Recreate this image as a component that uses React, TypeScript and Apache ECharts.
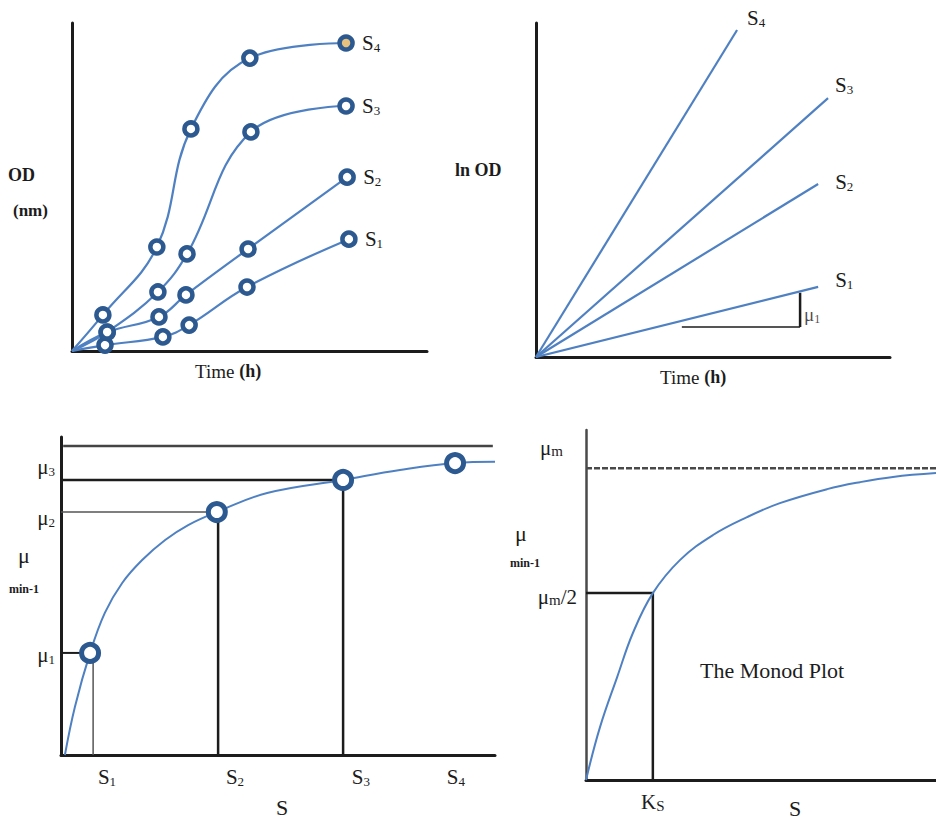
import React, { useEffect, useRef } from "react";
import * as echarts from "echarts";

const SERIF = "'Liberation Serif', 'DejaVu Serif', serif";
const LINE_BLUE = "#4f81c2";
const RING_BLUE = "#2b5990";
const INK = "#1c1c1c";

// ---- Panel A: OD vs time (growth curves) ----
const growthLabels = ["1", "2", "3", "4"];
const growthS1: number[][] = [[0, 0], [0.93, 0.18], [2.56, 0.43], [3.30, 0.79], [4.93, 1.95], [7.80, 3.41]];
const growthS2: number[][] = [[0, 0], [0.99, 0.57], [2.45, 1.04], [3.21, 1.71], [4.96, 3.11], [7.75, 5.30]];
const growthS3: number[][] = [[0, 0], [0.99, 0.58], [2.42, 1.80], [3.24, 2.96], [5.04, 6.68], [7.72, 7.47]];
const growthS4: number[][] = [[0, 0], [0.87, 1.10], [2.39, 3.17], [3.35, 6.77], [5.01, 8.93], [7.72, 9.39]];

// ---- Panel B: ln OD vs time ----
const lnS1: number[][] = [[0, 0], [7.97, 2.10]];
const lnS2: number[][] = [[0, 0], [7.97, 5.18]];
const lnS3: number[][] = [[0, 0], [8.25, 7.75]];
const lnS4: number[][] = [[0, 0], [5.68, 9.79]];
const slopeRun: number[][] = [[4.12, 0.90], [7.46, 0.90]];
const slopeRise: number[][] = [[7.46, 0.90], [7.46, 1.92]];
const slopeLabelAt: number[] = [7.46, 1.26];

// ---- Panel C: mu vs S with measured points ----
const muCurve: number[][] = [[0.09, 0], [0.32, 1.51], [0.67, 3.21], [1.01, 4.47], [1.41, 5.41], [1.87, 6.13], [2.40, 6.76], [2.93, 7.23], [3.59, 7.64], [4.75, 8.24], [6.50, 8.65], [7.81, 8.96], [9.08, 9.18], [10, 9.22]];
const muPoints: number[][] = [[0.67, 3.21], [3.59, 7.64], [6.50, 8.65], [9.08, 9.18]];
const muMaxLine: number[][] = [[0.05, 9.72], [9.95, 9.72]];
const mu3Guide: number[][] = [[0, 8.65], [6.50, 8.65], [6.50, 0]];
const mu2Horiz: number[][] = [[0, 7.64], [3.59, 7.64]];
const mu2Vert: number[][] = [[3.62, 7.64], [3.62, 0]];
const mu1Horiz: number[][] = [[0, 3.21], [0.67, 3.21]];
const mu1Vert: number[][] = [[0.74, 3.21], [0.74, 0]];
const muTickPos: number[] = [3.14, 7.45, 9.06];
const muTickNames: string[] = ["1", "2", "3"];
const sTickPos: number[] = [1.06, 4.01, 6.91, 9.10];
const sTickNames: string[] = ["1", "2", "3", "4"];

// ---- Panel D: The Monod plot ----
const monodCurve: number[][] = [[0, 0], [0.40, 1.51], [0.89, 2.94], [1.34, 4.20], [1.91, 5.34], [2.69, 6.29], [3.63, 7.00], [4.60, 7.51], [5.54, 7.91], [6.89, 8.31], [7.83, 8.51], [8.77, 8.66], [10, 8.77]];
const monodMax: number[][] = [[0, 8.91], [10, 8.91]];
const halfGuide: number[][] = [[0, 5.34], [1.91, 5.34], [1.91, 0]];
const monodYTicks: number[] = [9.49, 5.23];
const ksTick: number[] = [1.91];

const subRich = {
  g: { fontFamily: SERIF, fontSize: 21, lineHeight: 22, color: INK },
  n: { fontFamily: SERIF, fontSize: 13, lineHeight: 12, verticalAlign: "bottom", color: INK },
  m: { fontFamily: SERIF, fontSize: 15, lineHeight: 16, verticalAlign: "bottom", color: INK },
  gap: { width: 14 },
};

function nearestIdx(arr: number[], v: number) {
  let best = 0;
  for (let i = 1; i < arr.length; i++) if (Math.abs(arr[i] - v) < Math.abs(arr[best] - v)) best = i;
  return best;
}

function hiddenAxis(gridIndex: number, color: string, width: number, extra: any = {}) {
  return {
    type: "value",
    gridIndex,
    min: 0,
    max: 10,
    axisLine: { show: true, onZero: false, lineStyle: { color, width } },
    axisTick: { show: false },
    axisLabel: { show: false },
    splitLine: { show: false },
    ...extra,
  };
}

function guide(xi: number, data: number[][], color: string, width: number, type: any = "solid", z = 2) {
  return {
    type: "line",
    xAxisIndex: xi,
    yAxisIndex: xi,
    data,
    symbol: "none",
    silent: true,
    z,
    lineStyle: { color, width, type },
  };
}

function growthSeries(data: number[][], idx: number) {
  const last = data.length - 1;
  return {
    type: "line",
    xAxisIndex: 0,
    yAxisIndex: 0,
    smooth: 0.4,
    data: data.map((p, i) =>
      i === 0
        ? { value: p, symbol: "none" }
        : idx === 3 && i === last
        ? { value: p, itemStyle: { color: "#e6c27e" } }
        : { value: p }
    ),
    symbol: "circle",
    symbolSize: 13,
    itemStyle: { color: "#ffffff", borderColor: RING_BLUE, borderWidth: 4.5, opacity: 1 },
    lineStyle: { color: LINE_BLUE, width: 2.2 },
    z: 3,
    endLabel: {
      show: true,
      distance: 16,
      formatter: "{g|S}{n|" + growthLabels[idx] + "}",
      rich: subRich,
    },
  };
}

function lnSeries(data: number[][], idx: number, offset: number[]) {
  return {
    type: "line",
    xAxisIndex: 1,
    yAxisIndex: 1,
    data,
    symbol: "none",
    lineStyle: { color: LINE_BLUE, width: 2.2 },
    z: 3,
    endLabel: {
      show: true,
      distance: 0,
      offset,
      formatter: "{g|S}{n|" + growthLabels[idx] + "}",
      rich: subRich,
    },
  };
}

function txt(x: number, y: number, text: string, size: number, weight: string = "normal", align: string = "left", rich?: any) {
  return {
    type: "text",
    x,
    y,
    silent: true,
    style: {
      text,
      fontFamily: SERIF,
      fontSize: size,
      fontWeight: weight,
      fill: INK,
      align,
      verticalAlign: "middle",
      rich,
    },
  };
}

const timeRich = {
  t: { fontFamily: SERIF, fontSize: 19, color: INK },
  b: { fontFamily: SERIF, fontSize: 18, fontWeight: "bold", color: INK },
};

export default function App() {
  const ref = useRef<HTMLDivElement>(null);
  useEffect(() => {
    if (!ref.current) return;
    const chart = echarts.init(ref.current, undefined, { renderer: "svg" });
    const option: any = {
      animation: false,
      backgroundColor: "#ffffff",
      grid: [
        { left: 72, top: 23, width: 355, height: 328, outerBoundsMode: "none" },
        { left: 536, top: 23, width: 354, height: 334, outerBoundsMode: "none" },
        { left: 61, top: 437, width: 434, height: 318, outerBoundsMode: "none" },
        { left: 586, top: 430, width: 350, height: 350, outerBoundsMode: "none" },
      ],
      xAxis: [
        hiddenAxis(0, INK, 3),
        hiddenAxis(1, INK, 3),
        hiddenAxis(2, INK, 3, {
          axisLabel: {
            show: true,
            customValues: sTickPos,
            margin: 11,
            formatter: (v: number) => "{g|S}{n|" + sTickNames[nearestIdx(sTickPos, v)] + "}",
            rich: subRich,
          },
        }),
        hiddenAxis(3, INK, 3, {
          axisLabel: {
            show: true,
            customValues: ksTick,
            margin: 11,
            formatter: () => "{g|K}{m|S}",
            rich: subRich,
          },
        }),
      ],
      yAxis: [
        hiddenAxis(0, INK, 3),
        hiddenAxis(1, INK, 3),
        hiddenAxis(2, INK, 3, {
          axisLabel: {
            show: true,
            customValues: muTickPos,
            margin: 6,
            formatter: (v: number) => "{g|μ}{n|" + muTickNames[nearestIdx(muTickPos, v)] + "}",
            rich: subRich,
          },
        }),
        hiddenAxis(3, "#4a4a4a", 2.5, {
          axisLabel: {
            show: true,
            customValues: monodYTicks,
            margin: 9,
            formatter: (v: number) =>
              nearestIdx(monodYTicks, v) === 0 ? "{g|μ}{m|m}{gap|}" : "{g|μ}{m|m}{g|/2}",
            rich: subRich,
          },
        }),
      ],
      series: [
        growthSeries(growthS1, 0),
        growthSeries(growthS2, 1),
        growthSeries(growthS3, 2),
        growthSeries(growthS4, 3),

        lnSeries(lnS1, 0, [17, -7]),
        lnSeries(lnS2, 1, [17, -2]),
        lnSeries(lnS3, 2, [7, -13]),
        lnSeries(lnS4, 3, [10, -12]),
        guide(1, slopeRun, INK, 1.5),
        guide(1, slopeRise, INK, 2.5),
        {
          type: "scatter",
          xAxisIndex: 1,
          yAxisIndex: 1,
          data: [slopeLabelAt],
          symbolSize: 2,
          itemStyle: { color: "rgba(0,0,0,0)" },
          silent: true,
          z: 5,
          label: {
            show: true,
            position: "right",
            distance: 3,
            formatter: "{g|μ}{n|1}",
            rich: {
              g: { fontFamily: SERIF, fontSize: 19, lineHeight: 20, color: INK },
              n: { fontFamily: SERIF, fontSize: 12, lineHeight: 11, verticalAlign: "bottom", color: INK },
            },
          },
        },

        guide(2, muMaxLine, "#444444", 2.5),
        guide(2, mu3Guide, INK, 2.5),
        guide(2, mu2Horiz, "#555555", 1.5),
        guide(2, mu2Vert, INK, 2.5),
        guide(2, mu1Horiz, INK, 2),
        guide(2, mu1Vert, "#555555", 1.5),
        {
          type: "line",
          xAxisIndex: 2,
          yAxisIndex: 2,
          data: muCurve,
          smooth: 0.4,
          symbol: "none",
          lineStyle: { color: LINE_BLUE, width: 2 },
          z: 3,
        },
        {
          type: "scatter",
          xAxisIndex: 2,
          yAxisIndex: 2,
          data: muPoints,
          symbol: "circle",
          symbolSize: 17,
          itemStyle: { color: "#ffffff", borderColor: RING_BLUE, borderWidth: 5, opacity: 1 },
          z: 4,
        },

        guide(3, monodMax, "#4a4a4a", 2.5, [6, 2]),
        guide(3, halfGuide, INK, 2.5),
        {
          type: "line",
          xAxisIndex: 3,
          yAxisIndex: 3,
          data: monodCurve,
          smooth: 0.4,
          symbol: "none",
          lineStyle: { color: LINE_BLUE, width: 2 },
          z: 3,
        },
      ],
      graphic: [
        txt(8, 175, "OD", 18, "bold"),
        txt(13, 210, "(nm)", 17, "bold"),
        txt(195, 371, "{t|Time} {b|(h)}", 19, "normal", "left", timeRich),
        txt(455, 170, "ln OD", 18, "bold"),
        txt(660, 377, "{t|Time} {b|(h)}", 19, "normal", "left", timeRich),
        txt(18, 555, "μ", 22),
        txt(9, 589, "min-1", 12, "bold"),
        txt(282, 807, "S", 22, "normal", "center"),
        txt(515, 533, "μ", 22),
        txt(510, 563, "min-1", 12, "bold"),
        txt(795, 808, "S", 22, "normal", "center"),
        txt(700, 670, "The Monod Plot", 22),
      ],
    };
    chart.setOption(option);
    return () => chart.dispose();
  }, []);
  return (
    <div
      ref={ref}
      style={{ position: "fixed", left: 0, top: 0, width: 936, height: 821, background: "#fff" }}
    />
  );
}
